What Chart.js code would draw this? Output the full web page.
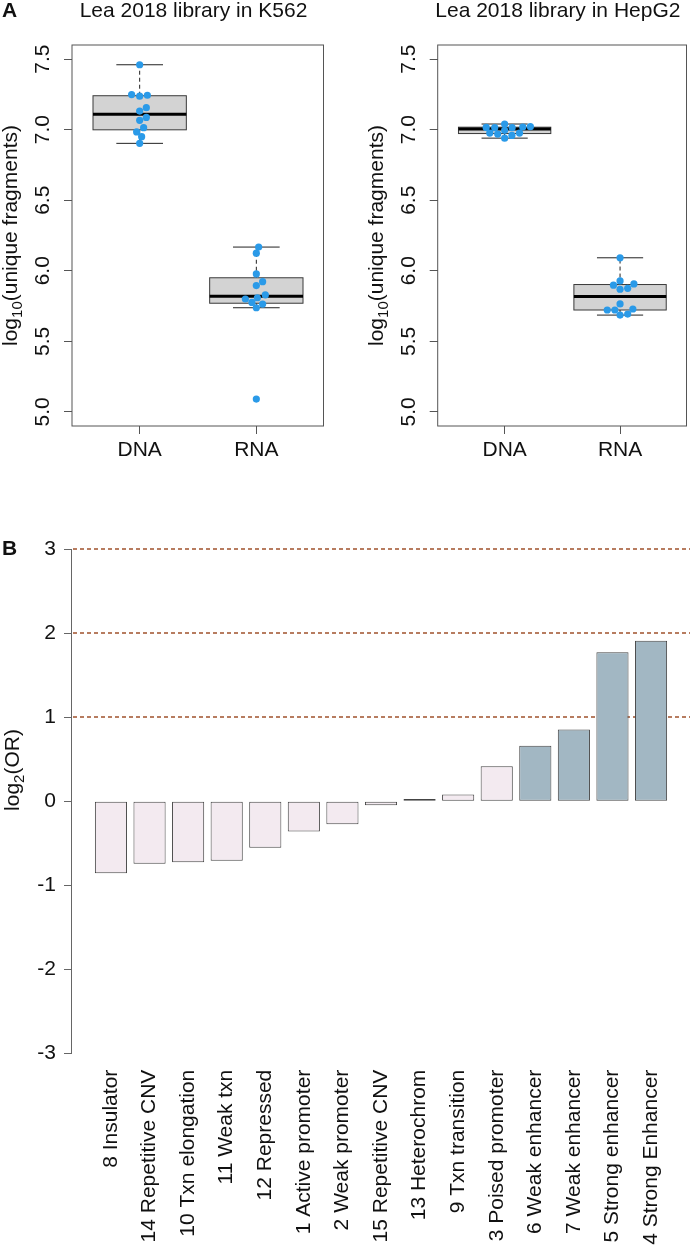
<!DOCTYPE html>
<html>
<head>
<meta charset="utf-8">
<script src="https://cdn.jsdelivr.net/npm/chart.js@4/dist/chart.umd.min.js"></script>
<style>
  body { margin: 0; background: #fff; }
  #wrap { position: relative; width: 691px; height: 1250px; }
  canvas { position: absolute; }
</style>
</head>
<body>
<div id="wrap">
  <canvas id="k562" width="345" height="500" style="left:0;top:0"></canvas>
  <canvas id="hepg2" width="346" height="500" style="left:345px;top:0"></canvas>
  <canvas id="or" width="691" height="730" style="left:0;top:520px"></canvas>
</div>
<script>
// panel A data: log10(unique fragments), dx = beeswarm offset in group units
const groups = ['DNA', 'RNA'];
const yTicksA = [5.0, 5.5, 6.0, 6.5, 7.0, 7.5];

const k562DNA   = [7.46, 7.249, 7.237, 7.244, 7.132, 7.156, 7.087, 7.066, 7.014, 6.984, 6.950, 6.903];
const k562DNAdx = [0, -0.069, 0, 0.066, 0, 0.057, 0.057, 0, 0.034, -0.026, 0.017, 0];
const k562RNA   = [6.168, 6.125, 5.978, 5.923, 5.895, 5.829, 5.809, 5.800, 5.776, 5.764, 5.738, 5.091];
const k562RNAdx = [0.02, 0, 0, 0.054, 0, 0.077, 0.009, -0.094, -0.038, 0.054, 0, 0];

const hepDNA   = [7.016, 7.014, 7.040, 6.995, 7.014, 7.019, 7.021, 6.976, 6.969, 6.976, 6.959, 6.940];
const hepDNAdx = [-0.16, -0.086, 0, 0, 0.065, 0.157, 0.223, -0.129, -0.06, 0.129, 0.063, 0];
const hepRNA   = [6.092, 5.928, 5.898, 5.907, 5.869, 5.876, 5.765, 5.722, 5.722, 5.729, 5.686, 5.693];
const hepRNAdx = [0, 0, -0.057, 0.12, 0, 0.066, 0, -0.111, -0.045, 0.111, 0, 0.066];

// panel B data
const states = ['8 Insulator', '14 Repetitive CNV', '10 Txn elongation', '11 Weak txn', '12 Repressed',
  '1 Active promoter', '2 Weak promoter', '15 Repetitive CNV', '13 Heterochrom', '9 Txn transition',
  '3 Poised promoter', '6 Weak enhancer', '7 Weak enhancer', '5 Strong enhancer', '4 Strong Enhancer'];
const log2OR = [-0.857, -0.746, -0.726, -0.710, -0.555, -0.361, -0.274, -0.048, 0.027, 0.08,
  0.416, 0.658, 0.853, 1.773, 1.907];
const yTicksB = [-3, -2, -1, 0, 1, 2, 3];
const refLines = [1, 2, 3];

const FONT = '"Liberation Sans", Arial, Helvetica, sans-serif';
const PX = 21;

// R style fivenum + 1.5 IQR whiskers
function fivenum(vals) {
  const s = [...vals].sort((a, b) => a - b);
  const n = s.length;
  const n4 = Math.floor((n + 3) / 2) / 2;
  const d = [1, n4, (n + 1) / 2, n + 1 - n4, n];
  return d.map(p => 0.5 * (s[Math.floor(p) - 1] + s[Math.ceil(p) - 1]));
}
function boxStats(vals) {
  const q = fivenum(vals);
  const iqr = q[3] - q[1];
  const inside = vals.filter(v => v >= q[1] - 1.5 * iqr && v <= q[3] + 1.5 * iqr);
  return { lo: Math.min(...inside), q1: q[1], med: q[2], q3: q[3], hi: Math.max(...inside) };
}

// draw y label with a subscript, rotated to read upwards
function rotatedSubLabel(ctx, x, yc, parts) {
  ctx.save();
  ctx.translate(x, yc);
  ctx.rotate(-Math.PI / 2);
  ctx.textBaseline = 'alphabetic';
  ctx.textAlign = 'left';
  let total = 0;
  parts.forEach(p => { ctx.font = p.size + 'px ' + FONT; total += ctx.measureText(p.t).width; });
  let cx = -total / 2;
  parts.forEach(p => {
    ctx.font = p.size + 'px ' + FONT;
    ctx.fillText(p.t, cx, p.dy || 0);
    cx += ctx.measureText(p.t).width;
  });
  ctx.restore();
}

function boxPanel(canvasId, dna, dnaDx, rna, rnaDx, title, letter, yAxisWidth, padRight) {
  const stats = [boxStats(dna), boxStats(rna)];
  const plugin = {
    id: 'boxpanel',
    beforeDatasetsDraw(chart) {
      const { ctx, scales: { x, y } } = chart;
      stats.forEach((s, i) => {
        const cx = x.getPixelForValue(i + 1);
        const hw = x.getPixelForValue(i + 1.4) - cx;
        const cw = hw / 2;
        ctx.save();
        ctx.strokeStyle = '#222';
        ctx.lineWidth = 1;
        ctx.setLineDash([4, 3]);
        ctx.beginPath();
        ctx.moveTo(cx, y.getPixelForValue(s.q3)); ctx.lineTo(cx, y.getPixelForValue(s.hi));
        ctx.moveTo(cx, y.getPixelForValue(s.q1)); ctx.lineTo(cx, y.getPixelForValue(s.lo));
        ctx.stroke();
        ctx.setLineDash([]);
        ctx.beginPath();
        ctx.moveTo(cx - cw, y.getPixelForValue(s.hi)); ctx.lineTo(cx + cw, y.getPixelForValue(s.hi));
        ctx.moveTo(cx - cw, y.getPixelForValue(s.lo)); ctx.lineTo(cx + cw, y.getPixelForValue(s.lo));
        ctx.stroke();
        const top = y.getPixelForValue(s.q3), bot = y.getPixelForValue(s.q1);
        ctx.fillStyle = '#D3D3D3';
        ctx.fillRect(cx - hw, top, 2 * hw, bot - top);
        ctx.strokeStyle = '#3a3a3a';
        ctx.strokeRect(cx - hw, top, 2 * hw, bot - top);
        ctx.strokeStyle = '#000';
        ctx.lineWidth = 3;
        ctx.beginPath();
        ctx.moveTo(cx - hw, y.getPixelForValue(s.med)); ctx.lineTo(cx + hw, y.getPixelForValue(s.med));
        ctx.stroke();
        ctx.restore();
      });
    },
    afterDraw(chart) {
      const { ctx, chartArea: a, scales: { y } } = chart;
      ctx.save();
      ctx.strokeStyle = '#555';
      ctx.lineWidth = 1;
      ctx.strokeRect(a.left, a.top, a.right - a.left - 0.5, a.bottom - a.top);
      ctx.fillStyle = '#111';
      ctx.font = '21px ' + FONT;
      ctx.textAlign = 'center';
      ctx.textBaseline = 'alphabetic';
      ctx.fillText(title, (a.left + a.right) / 2 - 4.5, 17);
      if (letter) {
        ctx.font = 'bold 21px ' + FONT;
        ctx.textAlign = 'left';
        ctx.fillText(letter, 2, 17);
      }
      // rotated y tick labels
      ctx.font = PX + 'px ' + FONT;
      yTicksA.forEach(v => {
        ctx.save();
        ctx.translate(a.left - 23, y.getPixelForValue(v));
        ctx.rotate(-Math.PI / 2);
        ctx.textAlign = 'center';
        ctx.textBaseline = 'alphabetic';
        ctx.fillText(v.toFixed(1), 0, 0);
        ctx.restore();
      });
      rotatedSubLabel(ctx, a.left - 55, (a.top + a.bottom) / 2, [
        { t: 'log', size: PX }, { t: '10', size: 15, dy: 5 }, { t: '(unique fragments)', size: PX }]);
      ctx.restore();
    }
  };

  const pts = (vals, dx, g) => vals.map((v, i) => ({ x: g + dx[i], y: v }));
  return new Chart(document.getElementById(canvasId), {
    type: 'scatter',
    data: {
      datasets: [
        { data: pts(dna, dnaDx, 1) },
        { data: pts(rna, rnaDx, 2) }
      ]
    },
    options: {
      responsive: false,
      animation: false,
      layout: { padding: { top: 45, left: 0, right: padRight, bottom: 0 } },
      elements: { point: { radius: 3.6, backgroundColor: '#2A9AE8', borderWidth: 0 } },
      plugins: { legend: { display: false }, tooltip: { enabled: false } },
      scales: {
        x: {
          type: 'linear', min: 0.42, max: 2.58, offset: false,
          afterBuildTicks: s => { s.ticks = groups.map((g, i) => ({ value: i + 1 })); },
          afterFit: s => { s.height = 74; s.paddingLeft = 0; s.paddingRight = 0; },
          grid: { drawOnChartArea: false, tickLength: 8, color: '#555' },
          border: { display: false },
          ticks: { font: { family: FONT, size: PX }, color: '#111', padding: 4, autoSkip: false,
            maxRotation: 0, callback: (v, i) => groups[i] }
        },
        y: {
          min: 4.9, max: 7.6,
          afterBuildTicks: s => { s.ticks = yTicksA.map(v => ({ value: v })); },
          afterFit: s => { s.width = yAxisWidth; s.paddingTop = 0; s.paddingBottom = 0; },
          grid: { drawOnChartArea: false, tickLength: 8, color: '#555' },
          border: { display: false },
          ticks: { color: 'rgba(0,0,0,0)', font: { family: FONT, size: PX } }
        }
      }
    },
    plugins: [plugin]
  });
}

boxPanel('k562', k562DNA, k562DNAdx, k562RNA, k562RNAdx, 'Lea 2018 library in K562', 'A', 72, 21);
boxPanel('hepg2', hepDNA, hepDNAdx, hepRNA, hepRNAdx, 'Lea 2018 library in HepG2', null, 92.7, 1);

// panel B
const barPos = states.map((s, i) => 0.7 + 1.2 * i);
const orPlugin = {
  id: 'orpanel',
  beforeDatasetsDraw(chart) {
    const { ctx, chartArea: a, scales: { y } } = chart;
    ctx.save();
    ctx.strokeStyle = '#A0522D';
    ctx.lineWidth = 1.5;
    ctx.setLineDash([4, 3]);
    refLines.forEach(v => {
      const py = y.getPixelForValue(v);
      ctx.beginPath(); ctx.moveTo(a.left + 1, py); ctx.lineTo(a.right, py); ctx.stroke();
    });
    ctx.restore();
  },
  afterDraw(chart) {
    const { ctx, chartArea: a, scales: { y } } = chart;
    ctx.save();
    ctx.strokeStyle = '#666';
    ctx.lineWidth = 1;
    ctx.beginPath();
    ctx.moveTo(a.left - 0.5, y.getPixelForValue(yTicksB[yTicksB.length - 1]));
    ctx.lineTo(a.left - 0.5, y.getPixelForValue(yTicksB[0]));
    ctx.stroke();
    ctx.fillStyle = '#111';
    ctx.font = 'bold 21px ' + FONT;
    ctx.textAlign = 'left';
    ctx.fillText('B', 2, 35);
    rotatedSubLabel(ctx, 19, 250, [
      { t: 'log', size: PX }, { t: '2', size: 15, dy: 5 }, { t: '(OR)', size: PX }]);
    ctx.restore();
  }
};

new Chart(document.getElementById('or'), {
  type: 'bar',
  data: {
    datasets: [{
      data: states.map((s, i) => ({ x: barPos[i], y: log2OR[i] })),
      backgroundColor: states.map(s => /enhancer/i.test(s) ? '#A2B7C3' : '#F3EAF0'),
      borderColor: '#444',
      borderWidth: 1,
      borderSkipped: false,
      categoryPercentage: 1,
      barPercentage: 1 / 1.2
    }]
  },
  options: {
    responsive: false,
    animation: false,
    layout: { padding: { top: 20.6, left: 0, right: 1, bottom: 0 } },
    plugins: { legend: { display: false }, tooltip: { enabled: false } },
    scales: {
      x: {
        type: 'linear', min: -0.512, max: 18.712, offset: false,
        afterBuildTicks: s => { s.ticks = barPos.map(v => ({ value: v })); },
        afterFit: s => { s.height = 188.3; s.paddingLeft = 0; s.paddingRight = 0; },
        grid: { display: false, drawTicks: false, offset: false },
        border: { display: false },
        ticks: { autoSkip: false, minRotation: 90, maxRotation: 90, padding: 8,
          font: { family: FONT, size: PX }, color: '#111', callback: (v, i) => states[i] }
      },
      y: {
        min: -3.1, max: 3.1,
        afterBuildTicks: s => { s.ticks = yTicksB.map(v => ({ value: v })); },
        afterFit: s => { s.width = 72; s.paddingTop = 0; s.paddingBottom = 0; },
        grid: { drawOnChartArea: false, tickLength: 8, color: '#666' },
        border: { display: false },
        ticks: { padding: 8, font: { family: FONT, size: PX }, color: '#111', callback: v => String(v) }
      }
    }
  },
  plugins: [orPlugin]
});
</script>
</body>
</html>
